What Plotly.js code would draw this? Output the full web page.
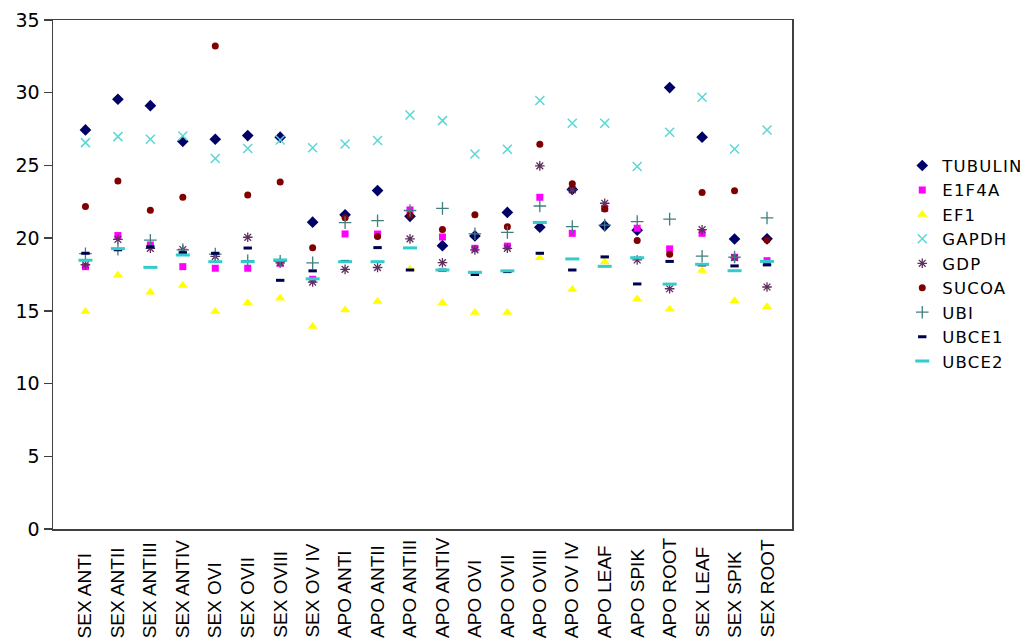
<!DOCTYPE html>
<html>
<head>
<meta charset="utf-8">
<script src="https://cdn.plot.ly/plotly-3.0.1.min.js"></script>
<style>
html,body{margin:0;padding:0;background:#fff;}
#chart{width:1032px;height:642px;}
#chart .legendtext{letter-spacing:1.2px;}
</style>
</head>
<body>
<div id="chart"></div>
<script>
var categories = ["SEX ANTI","SEX ANTII","SEX ANTIII","SEX ANTIV","SEX OVI","SEX OVII","SEX OVIII","SEX OV IV",
  "APO ANTI","APO ANTII","APO ANTIII","APO ANTIV","APO OVI","APO OVII","APO OVIII","APO OV IV",
  "APO LEAF","APO SPIK","APO ROOT","SEX LEAF","SEX SPIK","SEX ROOT"];

var tubulin = [27.44,29.55,29.11,26.66,26.8,27.05,26.94,21.1,21.6,23.27,21.5,19.48,20.15,21.77,20.75,23.35,20.85,20.55,30.35,26.94,19.94,19.95];
var e1f4a   = [18.04,20.18,19.53,18.04,17.93,17.93,18.27,17.17,20.29,20.28,21.94,20.08,19.3,19.45,22.81,20.33,22.05,20.68,19.26,20.33,18.68,18.45];
var ef1     = [14.95,17.44,16.28,16.75,14.95,15.56,15.87,13.93,15.06,15.64,17.87,15.56,14.88,14.88,18.66,16.47,18.36,15.82,15.11,17.78,15.7,15.29];
var gapdh   = [26.57,26.98,26.8,27.03,25.47,26.16,26.75,26.22,26.48,26.71,28.47,28.08,25.79,26.11,29.46,27.9,27.9,24.92,27.28,29.69,26.13,27.44];
var gdp     = [18.17,19.91,19.3,19.22,18.75,20.06,18.3,16.98,17.85,17.98,19.95,18.31,19.19,19.3,24.97,23.32,22.4,18.5,16.52,20.58,18.66,16.64];
var sucoa   = [22.17,23.93,21.92,22.81,33.22,22.97,23.86,19.34,21.4,20.12,21.57,20.6,21.6,20.79,26.46,23.74,22.0,19.83,18.9,23.14,23.26,19.88];
var ubi     = [18.93,19.24,19.86,19.2,18.9,18.45,18.4,18.3,21.07,21.2,21.9,22.05,20.3,20.4,22.21,20.79,20.9,21.14,21.31,18.76,18.7,21.39];
var ubce1   = [18.96,19.2,19.4,19.0,18.96,19.32,17.1,17.75,18.4,19.35,17.81,17.8,17.5,17.7,18.96,17.81,18.71,16.85,18.4,18.16,18.09,18.16];
var ubce2   = [18.48,19.28,17.99,18.84,18.38,18.38,18.5,17.2,18.38,18.38,19.33,17.81,17.65,17.75,21.08,18.57,18.06,18.65,16.84,18.2,17.76,18.4];

var yTicks = [0,5,10,15,20,25,30,35];

function tr(name, y, marker){
  return {type:'scatter', mode:'markers', name:name, x:categories, y:y, marker:marker, hoverinfo:'x+y+name'};
}

var data = [
  tr('TUBULIN', tubulin, {symbol:'diamond', size:9, color:'#000066'}),
  tr('E1F4A', e1f4a, {symbol:'square', size:7, color:'#FF00FF'}),
  tr('EF1', ef1, {symbol:'triangle-up', size:9, color:'#FFFF00'}),
  tr('GAPDH', gapdh, {symbol:'x-thin', size:9, color:'#5CD6D6', line:{color:'#5CD6D6', width:1.5}}),
  tr('GDP', gdp, {symbol:'asterisk', size:8, color:'#5E3060', line:{color:'#5E3060', width:1.3}}),
  tr('SUCOA', sucoa, {symbol:'circle', size:7, color:'#800000'}),
  tr('UBI', ubi, {symbol:'cross-thin', size:9, color:'#3F7F7F', line:{color:'#3F7F7F', width:1.3}}),
  tr('UBCE1', ubce1, {symbol:'line-ew', size:6, color:'#000050', line:{color:'#000050', width:3}}),
  tr('UBCE2', ubce2, {symbol:'line-ew', size:10, color:'#33CCCC', line:{color:'#33CCCC', width:3}})
];

var annotations = categories.map(function(c){
  return {x:c, xref:'x', y:-0.218, yref:'paper', text:c, textangle:-90,
          showarrow:false, xanchor:'center', yanchor:'bottom',
          font:{family:'Liberation Sans, Arial, sans-serif', size:19, color:'#000'}};
});

var layout = {
  width:1032, height:642,
  margin:{l:53, r:235, t:20, b:113, pad:0},
  paper_bgcolor:'#fff', plot_bgcolor:'#fff',
  showlegend:true,
  font:{family:'DejaVu Sans, sans-serif', size:19, color:'#000'},
  xaxis:{type:'category', range:[-1,21.77], showgrid:false, zeroline:false,
         showline:true, linecolor:'#404040', linewidth:1.5, mirror:true,
         showticklabels:false, ticks:''},
  yaxis:{range:[0,35], tickvals:yTicks, ticktext:yTicks.map(String), showgrid:false, zeroline:false,
         showline:true, linecolor:'#404040', linewidth:1.5, mirror:true,
         ticks:'outside', ticklen:8, tickcolor:'#404040', tickwidth:1.5,
         tickfont:{family:'DejaVu Sans, sans-serif', size:19, color:'#000'}},
  legend:{x:1.1492, xanchor:'left', y:0.748, yanchor:'top', bgcolor:'rgba(0,0,0,0)',
          font:{family:'DejaVu Sans, sans-serif', size:16.5, color:'#000'}, itemwidth:30, tracegroupgap:0},
  annotations:annotations
};

Plotly.newPlot('chart', data, layout, {displayModeBar:false, staticPlot:true});
</script>
</body>
</html>
